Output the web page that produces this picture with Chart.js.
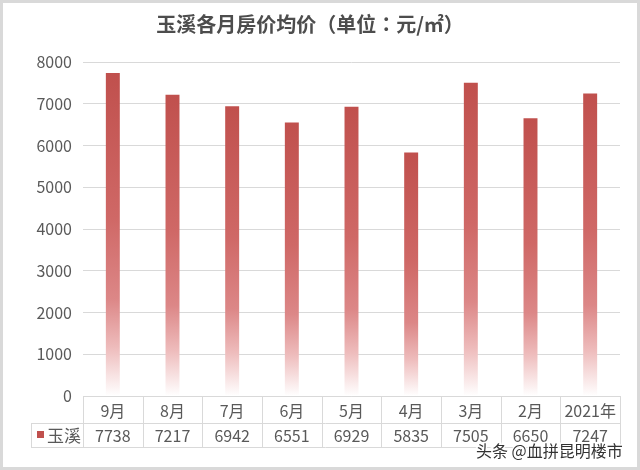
<!DOCTYPE html>
<html><head><meta charset="utf-8">
<script src="https://cdn.jsdelivr.net/npm/chart.js@4/dist/chart.umd.min.js"></script>
<style>html,body{margin:0;padding:0;background:#fff}canvas{display:block}</style>
</head><body>
<canvas id="c" width="640" height="470"></canvas>
<script>
const titleText = '玉溪各月房价均价（单位：元/㎡）';
const categories = ['9月', '8月', '7月', '6月', '5月', '4月', '3月', '2月', '2021年'];
const seriesName = '玉溪';
const values = [7738, 7217, 6942, 6551, 6929, 5835, 7505, 6650, 7247];
const yMin = 0, yMax = 8000, yStep = 1000;
const watermark = '头条 @血拼昆明楼市';

const FONT = "'Noto Sans CJK SC', 'Microsoft YaHei', sans-serif";
const TITLE_FONT = "'Noto Sans CJK TC', 'Noto Sans CJK SC', sans-serif";
const TXT = '#595959';
const LINE = '#d9d9d9';

function barGradient(ctx) {
  const chart = ctx.chart;
  if (!chart.chartArea || ctx.raw === undefined) return '#c0504d';
  const y = chart.scales.y;
  const top = y.getPixelForValue(ctx.raw);
  const bottom = y.getPixelForValue(0);
  const g = chart.ctx.createLinearGradient(0, top, 0, bottom);
  g.addColorStop(0, '#c0504d');
  g.addColorStop(0.45, '#cf6866');
  g.addColorStop(0.7, '#dc8787');
  g.addColorStop(0.85, '#eebcbc');
  g.addColorStop(1, '#ffffff');
  return g;
}

const tablePlugin = {
  id: 'tablePlugin',
  afterDraw(chart) {
    const c = chart.ctx;
    const x = chart.scales.x;
    const ca = chart.chartArea;
    const n = categories.length;
    const w = (ca.right - ca.left) / n;
    const y0 = ca.bottom, y1 = y0 + 27, y2 = y1 + 24;
    const legL = 31;
    c.save();
    c.strokeStyle = LINE;
    c.lineWidth = 1;
    c.beginPath();
    c.moveTo(ca.left, y0 + 0.5); c.lineTo(ca.right, y0 + 0.5);
    c.moveTo(legL, y1 + 0.5); c.lineTo(ca.right, y1 + 0.5);
    c.moveTo(legL, y2 + 0.5); c.lineTo(ca.right, y2 + 0.5);
    c.moveTo(legL + 0.5, y1); c.lineTo(legL + 0.5, y2);
    for (let i = 0; i <= n; i++) {
      const xx = Math.round(ca.left + i * w) + 0.5;
      c.moveTo(xx, y0); c.lineTo(xx, y2);
    }
    c.stroke();
    c.fillStyle = TXT;
    c.font = '16px ' + FONT;
    c.textAlign = 'center';
    c.textBaseline = 'middle';
    categories.forEach((lab, i) => {
      const cx = x.getPixelForValue(i);
      c.fillText(lab, cx, (y0 + y1) / 2 + 1);
      c.fillText(String(values[i]), cx, (y1 + y2) / 2 + 1);
    });
    c.fillStyle = '#c0504d';
    c.fillRect(37, 431, 7, 7);
    c.fillStyle = TXT;
    c.textAlign = 'left';
    c.font = '17px ' + FONT;
    c.fillText(seriesName, 47, (y1 + y2) / 2 + 1);
    // watermark
    c.font = '16px ' + FONT;
    c.textBaseline = 'middle';
    c.lineWidth = 3;
    c.strokeStyle = 'rgba(255,255,255,0.9)';
    c.strokeText(watermark, 476, 451);
    c.fillStyle = '#333333';
    c.fillText(watermark, 476, 451);
    // outer frame
    c.strokeStyle = '#d9d9d9';
    c.lineWidth = 3;
    c.strokeRect(1.5, 1.5, 637, 467);
    c.restore();
  }
};

new Chart(document.getElementById('c'), {
  type: 'bar',
  data: {
    labels: categories,
    datasets: [{
      label: seriesName,
      data: values,
      backgroundColor: barGradient,
      borderWidth: 0,
      barPercentage: 0.78,
      categoryPercentage: 0.3
    }]
  },
  options: {
    responsive: false,
    animation: false,
    layout: { padding: { left: 0, right: 20, top: 0, bottom: 74 } },
    plugins: {
      legend: { display: false },
      tooltip: { enabled: false },
      title: {
        display: true,
        text: titleText,
        color: '#4d4d4d',
        font: { family: TITLE_FONT, size: 20, weight: 'bold' },
        padding: { top: 12, bottom: 26 }
      }
    },
    scales: {
      x: { display: false },
      y: {
        min: yMin, max: yMax,
        ticks: {
          stepSize: yStep, color: TXT, font: { family: FONT, size: 16 }, padding: 11,
          callback: (v) => String(v)
        },
        grid: { color: LINE, drawTicks: false },
        border: { display: false },
        afterFit(scale) { scale.width = 83; }
      }
    }
  },
  plugins: [tablePlugin]
});
</script>
</body></html>
